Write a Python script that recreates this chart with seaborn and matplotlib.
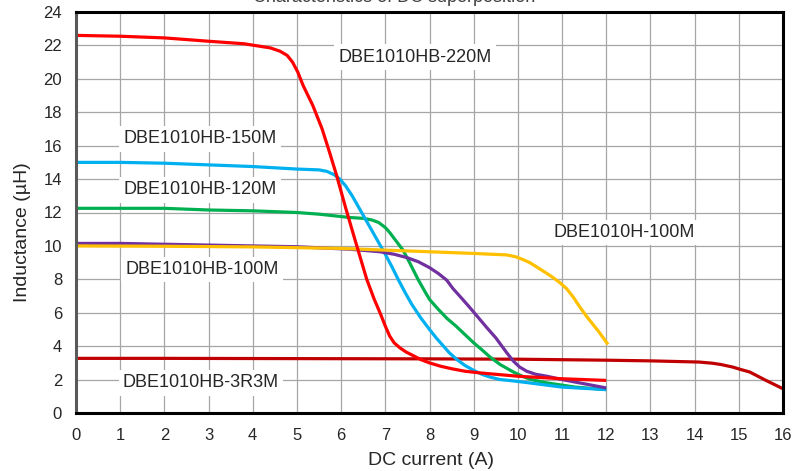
import matplotlib
matplotlib.use("Agg")
import matplotlib.pyplot as plt
import pandas as pd
import seaborn as sns

# values (DC current in A, inductance in uH)
current_220m = [0, 1, 2, 3, 3.8, 4.16, 4.4, 4.62, 4.78, 4.9, 5.02, 5.14, 5.36, 5.57, 5.75, 5.9, 6.1, 6.31,
                6.58, 6.75, 6.88, 7.0, 7.1, 7.2, 7.33, 7.47, 7.62, 7.8, 8.0, 8.25, 8.5, 8.8, 9.14, 10, 11, 12]
induct_220m = [22.6, 22.55, 22.45, 22.25, 22.1, 21.95, 21.85, 21.65, 21.4, 21.0, 20.4, 19.6, 18.4, 17.0, 15.5, 14.2, 12.3, 10.4,
               8.0, 6.8, 6.0, 5.2, 4.6, 4.2, 3.9, 3.65, 3.45, 3.2, 3.0, 2.8, 2.65, 2.5, 2.4, 2.2, 2.05, 1.95]

current_150m = [0, 1, 2, 3, 4, 5, 5.5, 5.68, 5.85, 5.97, 6.1, 6.25, 6.4, 6.55, 6.7, 6.85, 7.0, 7.15, 7.3, 7.45,
                7.6, 7.8, 8.0, 8.15, 8.3, 8.45, 8.62, 8.8, 9.0, 9.2, 9.37, 9.6, 9.8, 10.27, 11, 12]
induct_150m = [15.0, 15.0, 14.95, 14.85, 14.75, 14.6, 14.55, 14.46, 14.25, 14.0, 13.6, 13.0, 12.3, 11.6, 10.9, 10.2, 9.5, 8.75, 7.95, 7.2,
               6.5, 5.7, 5.0, 4.5, 4.05, 3.6, 3.2, 2.85, 2.55, 2.3, 2.15, 2.0, 1.95, 1.8, 1.55, 1.4]

current_120m = [0, 1, 2, 3, 4, 5, 5.5, 6.2, 6.5, 6.7, 6.85, 7.0, 7.1, 7.2, 7.3, 7.4, 7.55, 7.74, 7.9, 8.0,
                8.2, 8.4, 8.6, 8.76, 9.0, 9.2, 9.37, 9.6, 9.9, 10.1, 10.3, 10.66, 11.3, 12]
induct_120m = [12.25, 12.25, 12.25, 12.15, 12.1, 12.0, 11.9, 11.7, 11.65, 11.55, 11.4, 11.1, 10.8, 10.45, 10.1, 9.75, 9.0, 8.0, 7.25, 6.8,
               6.2, 5.65, 5.2, 4.8, 4.2, 3.75, 3.35, 2.9, 2.45, 2.2, 2.0, 1.8, 1.55, 1.4]

current_100m_hb = [0, 1, 2, 3, 4, 5, 6.2, 6.88, 7.2, 7.49, 7.75, 8.0, 8.2, 8.39, 8.53, 8.7, 8.9, 9.14, 9.3, 9.5,
                   9.75, 9.9, 10.04, 10.2, 10.4, 10.66, 11.0, 11.3, 11.7, 12]
induct_100m_hb = [10.15, 10.15, 10.1, 10.05, 10.0, 9.95, 9.8, 9.65, 9.5, 9.3, 9.05, 8.7, 8.35, 7.95, 7.45, 6.95, 6.35, 5.6, 5.1, 4.5,
                  3.6, 3.1, 2.75, 2.5, 2.32, 2.2, 2.0, 1.85, 1.65, 1.5]

current_100m_h = [0, 2, 4, 6, 6.88, 8, 9, 9.75, 9.95, 10.1, 10.27, 10.45, 10.6, 10.8, 10.95, 11.1, 11.25, 11.4, 11.55, 11.7, 11.85, 12.04]
induct_100m_h = [10.0, 9.98, 9.94, 9.85, 9.76, 9.65, 9.55, 9.46, 9.35, 9.2, 9.0, 8.7, 8.45, 8.1, 7.8, 7.45, 6.95, 6.35, 5.8, 5.3, 4.8, 4.1]

current_3r3m = [0, 2, 4, 6, 8, 10, 12, 13, 14.1, 14.4, 14.6, 14.86, 15.05, 15.25, 15.6, 16]
induct_3r3m = [3.27, 3.27, 3.26, 3.25, 3.24, 3.22, 3.16, 3.12, 3.05, 2.98, 2.9, 2.75, 2.6, 2.45, 1.97, 1.45]

series_names = ["DBE1010HB-3R3M", "DBE1010HB-120M", "DBE1010HB-150M",
                "DBE1010HB-100M", "DBE1010H-100M", "DBE1010HB-220M"]
series_colors = ["#C00000", "#00B050", "#00B0F0", "#7030A0", "#FFC000", "#FF0000"]
series_data = {
    "DBE1010HB-220M": (current_220m, induct_220m),
    "DBE1010HB-150M": (current_150m, induct_150m),
    "DBE1010HB-120M": (current_120m, induct_120m),
    "DBE1010HB-100M": (current_100m_hb, induct_100m_hb),
    "DBE1010H-100M": (current_100m_h, induct_100m_h),
    "DBE1010HB-3R3M": (current_3r3m, induct_3r3m),
}

# label text and where it sits (data coords)
label_pos = {
    "DBE1010HB-220M": (7.67, 21.3),
    "DBE1010HB-150M": (2.8, 16.4),
    "DBE1010HB-120M": (2.8, 13.35),
    "DBE1010HB-100M": (2.85, 8.6),
    "DBE1010H-100M": (12.4, 10.8),
    "DBE1010HB-3R3M": (2.83, 1.8),
}

rows = []
for name in series_names:
    xs, ys = series_data[name]
    for x, y in zip(xs, ys):
        rows.append({"current": x, "inductance": y, "part": name})
df = pd.DataFrame(rows)

sns.set_style("white")
plt.rcParams["font.family"] = ["Liberation Sans", "DejaVu Sans"]

fig = plt.figure(figsize=(8.07, 4.71), dpi=100)
ax = fig.add_axes([76 / 807, 1 - 413 / 471, 707 / 807, 401 / 471])

sns.lineplot(data=df, x="current", y="inductance", hue="part", hue_order=series_names,
             palette=series_colors, linewidth=2.3, legend=False, ax=ax, estimator=None,
             solid_joinstyle="round", solid_capstyle="butt")

ax.set_xlim(0, 16)
ax.set_ylim(0, 24)
ax.set_xticks(range(0, 17))
ax.set_yticks(range(0, 25, 2))
ax.set_axisbelow(True)
ax.grid(True, color="#a6a6a6", linewidth=0.9)
ax.tick_params(axis="both", length=0)
ax.tick_params(axis="y", pad=10, labelsize=12)
ax.tick_params(axis="x", pad=11, labelsize=12)

ax.set_xlabel("DC current (A)", fontsize=14)
ax.set_ylabel("Inductance (\u00b5H)", fontsize=14)
ax.xaxis.set_label_coords(0.502, -0.097)
ax.yaxis.set_label_coords(-0.064, 0.45)

for side in ["top", "bottom", "right"]:
    ax.spines[side].set_color("black")
    ax.spines[side].set_linewidth(2.2)
ax.spines["left"].set_color("#595959")
ax.spines["left"].set_linewidth(2.2)

for name, (lx, ly) in label_pos.items():
    ax.text(lx, ly, name, ha="center", va="center", fontsize=13, zorder=3,
            bbox=dict(facecolor="white", edgecolor="none", pad=3))

# title sits mostly above the top edge of the image
fig.text(394 / 807, 1 - 1.5 / 471, "Characteristics of DC superposition",
         ha="center", va="baseline", fontsize=13, color="#404040")

fig.savefig("out.png", dpi=100)
